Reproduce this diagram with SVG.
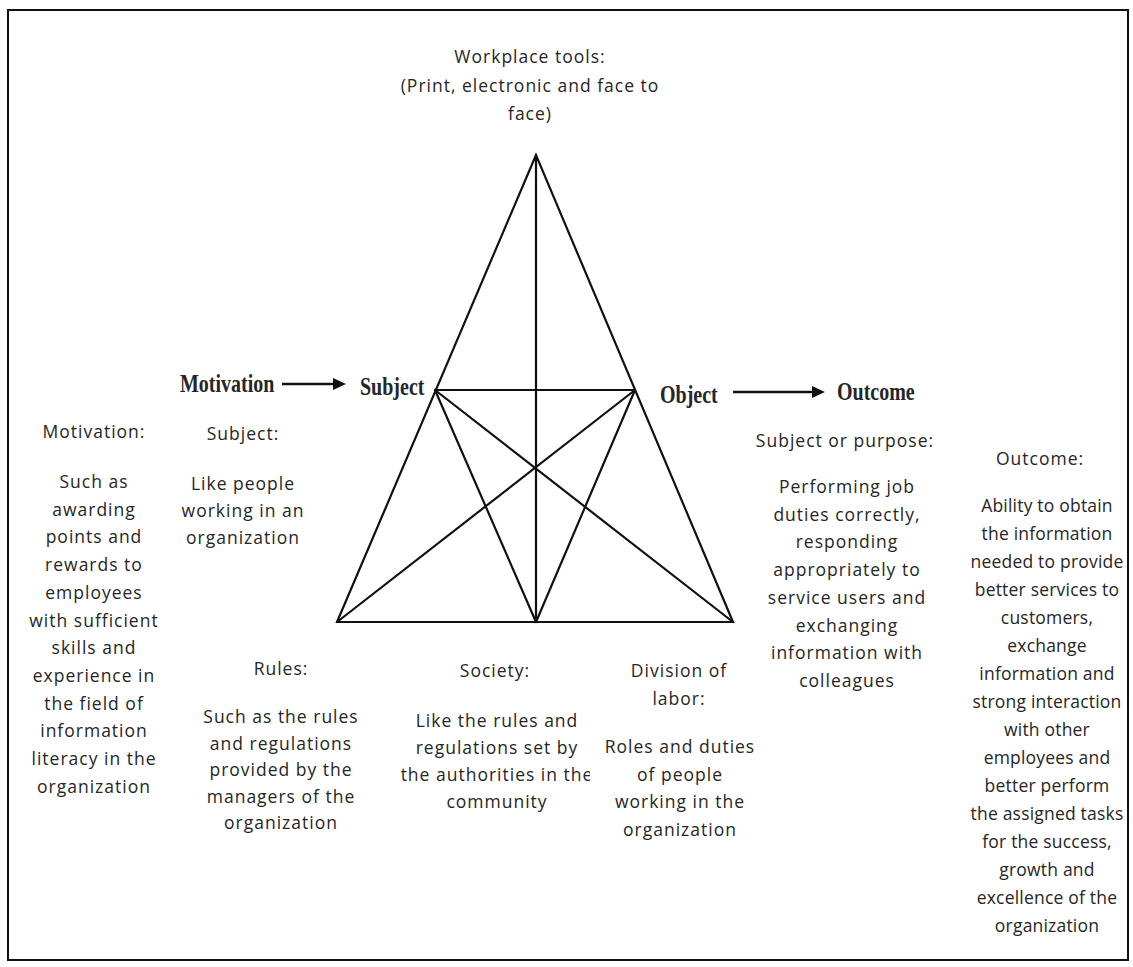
<svg xmlns="http://www.w3.org/2000/svg" width="1133" height="967" viewBox="0 0 1133 967">
  <style>
    .txt { font-family: "Open Sans", "Liberation Sans", sans-serif; font-size: 17.5px; letter-spacing: 1px; fill: #262626; text-anchor: middle; }
    .tight { letter-spacing: 0.2px; }
    .lbl { font-family: "Liberation Serif", "Times New Roman", serif; font-size: 20px; font-weight: bold; fill: #262626; }
    .edge { stroke: #111; stroke-width: 2.2; fill: none; stroke-linecap: round; }
    .arrow { stroke: #111; stroke-width: 2.6; fill: none; }
  </style>
  <defs>
    <marker id="head" markerWidth="13" markerHeight="13" refX="0" refY="6" orient="auto" markerUnits="userSpaceOnUse">
      <path d="M0,0 L13,6 L0,12 Z" fill="#111"/>
    </marker>
    <clipPath id="societyClip">
      <rect x="380" y="640" width="210" height="200"/>
    </clipPath>
  </defs>

  <rect x="0" y="0" width="1133" height="967" fill="#fff"/>
  <!-- outer frame -->
  <rect x="8" y="10" width="1120" height="950" fill="none" stroke="#111" stroke-width="2"/>

  <!-- connectors: the triangle and its inner lines -->
  <g id="connectors">
    <path class="edge" d="M536,155 L337,622 L733,622 Z"/>
    <line class="edge" x1="536" y1="155" x2="536" y2="622"/>
    <line class="edge" x1="435" y1="390" x2="635" y2="390"/>
    <line class="edge" x1="435" y1="390" x2="536" y2="622"/>
    <line class="edge" x1="435" y1="390" x2="733" y2="622"/>
    <line class="edge" x1="635" y1="390" x2="536" y2="622"/>
    <line class="edge" x1="635" y1="390" x2="337" y2="622"/>
    <line class="arrow" x1="282" y1="384" x2="333" y2="384" marker-end="url(#head)"/>
    <line class="arrow" x1="733" y1="392" x2="812" y2="392" marker-end="url(#head)"/>
  </g>

  <!-- vertex labels -->
  <g id="motivation-label"><text class="lbl" transform="translate(180,392) scale(1,1.3)">Motivation</text></g>
  <g id="subject-label"><text class="lbl" transform="translate(360,395) scale(1,1.3)">Subject</text></g>
  <g id="object-label"><text class="lbl" transform="translate(660,403) scale(1,1.3)">Object</text></g>
  <g id="outcome-label"><text class="lbl" transform="translate(837,400) scale(1,1.3)">Outcome</text></g>

  <!-- tools at the apex -->
  <g id="tools">
    <text class="txt" x="530" y="63">Workplace tools:</text>
    <text class="txt" x="530" y="92">(Print, electronic and face to</text>
    <text class="txt" x="530" y="120">face)</text>
  </g>

  <g id="motivation">
    <text class="txt" x="94" y="438">Motivation:</text>
    <text class="txt" x="94" y="488">Such as</text>
    <text class="txt" x="94" y="515.7">awarding</text>
    <text class="txt" x="94" y="543.4">points and</text>
    <text class="txt" x="94" y="571.1">rewards to</text>
    <text class="txt" x="94" y="598.8">employees</text>
    <text class="txt" x="94" y="626.5">with sufficient</text>
    <text class="txt" x="94" y="654.2">skills and</text>
    <text class="txt" x="94" y="681.9">experience in</text>
    <text class="txt" x="94" y="709.6">the field of</text>
    <text class="txt" x="94" y="737.3">information</text>
    <text class="txt" x="94" y="765">literacy in the</text>
    <text class="txt" x="94" y="792.7">organization</text>
  </g>

  <g id="subject">
    <text class="txt" x="243" y="440">Subject:</text>
    <text class="txt" x="243" y="490">Like people</text>
    <text class="txt" x="243" y="517">working in an</text>
    <text class="txt" x="243" y="544">organization</text>
  </g>

  <g id="rules">
    <text class="txt" x="281" y="675">Rules:</text>
    <text class="txt" x="281" y="723">Such as the rules</text>
    <text class="txt" x="281" y="749.5">and regulations</text>
    <text class="txt" x="281" y="776">provided by the</text>
    <text class="txt" x="281" y="802.5">managers of the</text>
    <text class="txt" x="281" y="829">organization</text>
  </g>

  <g id="society">
    <text class="txt" x="495" y="677">Society:</text>
    <text class="txt" x="497" y="727">Like the rules and</text>
    <text class="txt" x="497" y="754">regulations set by</text>
    <text class="txt" x="497" y="781" clip-path="url(#societyClip)">the authorities in the</text>
    <text class="txt" x="497" y="808">community</text>
  </g>

  <g id="division">
    <text class="txt" x="679" y="677">Division of</text>
    <text class="txt" x="679" y="705">labor:</text>
    <text class="txt" x="680" y="753">Roles and duties</text>
    <text class="txt" x="680" y="780.5">of people</text>
    <text class="txt" x="680" y="808">working in the</text>
    <text class="txt" x="680" y="835.5">organization</text>
  </g>

  <g id="purpose">
    <text class="txt" x="845" y="447">Subject or purpose:</text>
    <text class="txt" x="847" y="493">Performing job</text>
    <text class="txt" x="847" y="521">duties correctly,</text>
    <text class="txt" x="847" y="548">responding</text>
    <text class="txt" x="847" y="576">appropriately to</text>
    <text class="txt" x="847" y="604">service users and</text>
    <text class="txt" x="847" y="632">exchanging</text>
    <text class="txt" x="847" y="659">information with</text>
    <text class="txt" x="847" y="687">colleagues</text>
  </g>

  <g id="outcome">
    <text class="txt" x="1040" y="465">Outcome:</text>
    <text class="txt tight" x="1047" y="512">Ability to obtain</text>
    <text class="txt tight" x="1047" y="540">the information</text>
    <text class="txt tight" x="1047" y="568">needed to provide</text>
    <text class="txt tight" x="1047" y="596">better services to</text>
    <text class="txt tight" x="1047" y="624">customers,</text>
    <text class="txt tight" x="1047" y="652">exchange</text>
    <text class="txt tight" x="1047" y="680">information and</text>
    <text class="txt tight" x="1047" y="708">strong interaction</text>
    <text class="txt tight" x="1047" y="736">with other</text>
    <text class="txt tight" x="1047" y="764">employees and</text>
    <text class="txt tight" x="1047" y="792">better perform</text>
    <text class="txt tight" x="1047" y="820">the assigned tasks</text>
    <text class="txt tight" x="1047" y="848">for the success,</text>
    <text class="txt tight" x="1047" y="876">growth and</text>
    <text class="txt tight" x="1047" y="904">excellence of the</text>
    <text class="txt tight" x="1047" y="932">organization</text>
  </g>
</svg>
